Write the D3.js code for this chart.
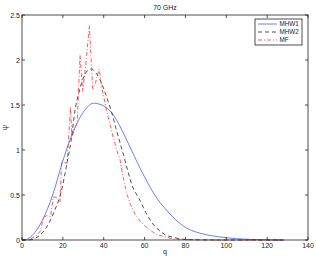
<!DOCTYPE html>
<html lang="en">
<head>
<meta charset="UTF-8">
<title>70 GHz</title>
<script src="https://d3js.org/d3.v7.min.js"></script>
<style>
  body { margin: 0; background: #fff; }
  svg text { font-family: "Liberation Sans", Arial, sans-serif; fill: #222; }
</style>
</head>
<body>
<div id="chart"></div>
<script>
// values
var xTicks = [0, 20, 40, 60, 80, 100, 120, 140];
var yTicks = [0, 0.5, 1, 1.5, 2, 2.5];

var mhw1Q = [0, 2, 5, 10, 15, 20, 25, 30, 35, 40, 45, 50, 55, 60, 65, 70, 75, 80, 85, 90, 95, 100, 110, 120, 128];
var mhw1V = [0, 0.005, 0.05, 0.22, 0.5, 0.88, 1.2, 1.42, 1.52, 1.49, 1.38, 1.17, 0.93, 0.70, 0.50, 0.35, 0.23, 0.14, 0.09, 0.06, 0.04, 0.025, 0.008, 0.002, 0];

var mhw2Q = [0, 5, 8, 10, 13, 16, 19, 22, 24, 26, 28, 30, 32, 34, 36, 38, 40, 42, 44, 46, 48, 50, 52, 54, 56, 58, 60, 62, 64, 66, 68, 70, 74, 78, 85, 100, 128];
var mhw2V = [0, 0.005, 0.04, 0.08, 0.18, 0.33, 0.52, 0.85, 1.1, 1.45, 1.65, 1.8, 1.88, 1.9, 1.86, 1.79, 1.68, 1.55, 1.41, 1.24, 1.08, 0.92, 0.75, 0.6, 0.51, 0.43, 0.33, 0.25, 0.18, 0.13, 0.09, 0.06, 0.03, 0.01, 0.003, 0, 0];

var mfQ = [0, 3, 5, 7, 9, 10.5, 12, 14, 15.3, 17, 18.6, 19.4, 21, 22, 23, 23.7, 24.5, 26, 27, 28.4, 29.7, 31, 33, 34.6, 36, 37.8, 39, 41.4, 44, 46.3, 48, 49.5, 51.2, 53, 56, 59, 62.6, 66, 70.8, 75, 80, 90, 128];
var mfV = [0, 0, 0.02, 0.05, 0.1, 0.25, 0.27, 0.26, 0.48, 0.47, 0.42, 0.88, 0.86, 0.85, 1.2, 1.48, 1.15, 1.25, 1.3, 2.05, 1.65, 1.9, 2.38, 1.68, 1.75, 1.9, 1.7, 1.44, 1.2, 1.0, 0.89, 0.7, 0.52, 0.4, 0.26, 0.18, 0.11, 0.06, 0.03, 0.01, 0.005, 0, 0];

var seriesNames = ["MHW1", "MHW2", "MF"];

var W = 316, H = 259;
var m = { left: 22, right: 8, top: 15, bottom: 19 };

var svg = d3.select("#chart").append("svg")
  .attr("width", W).attr("height", H);

var x = d3.scaleLinear().domain([0, 140]).range([m.left, W - m.right]);
var y = d3.scaleLinear().domain([0, 2.5]).range([H - m.bottom, m.top]);

var series = [
  { name: seriesNames[0], q: mhw1Q, v: mhw1V, color: "#3f63f2", dash: null },
  { name: seriesNames[1], q: mhw2Q, v: mhw2V, color: "#222", dash: "4,3" },
  { name: seriesNames[2], q: mfQ, v: mfV, color: "#ff3030", dash: "4,2,1,2" }
];

var line = d3.line().x(function(d) { return x(d[0]); }).y(function(d) { return y(d[1]); });

series.forEach(function(s) {
  var pts = s.q.map(function(q, i) { return [q, s.v[i]]; });
  svg.append("path")
    .attr("d", line.curve(s.name === "MF" ? d3.curveLinear : d3.curveMonotoneX)(pts))
    .attr("fill", "none")
    .attr("stroke", s.color)
    .attr("stroke-width", 0.8)
    .attr("stroke-dasharray", s.dash);
});

// axes, MATLAB style: ticks inward, box around
var tk = 3;
var g = svg.append("g").attr("stroke", "#222").attr("stroke-width", 0.8);
g.append("rect")
  .attr("x", x(0)).attr("y", y(2.5))
  .attr("width", x(140) - x(0)).attr("height", y(0) - y(2.5))
  .attr("fill", "none");

xTicks.forEach(function(t) {
  g.append("line").attr("x1", x(t)).attr("x2", x(t)).attr("y1", y(0)).attr("y2", y(0) - tk);
  g.append("line").attr("x1", x(t)).attr("x2", x(t)).attr("y1", y(2.5)).attr("y2", y(2.5) + tk);
  svg.append("text").attr("x", x(t)).attr("y", y(0) + 8)
    .attr("text-anchor", "middle").attr("font-size", 7).text(t);
});
yTicks.forEach(function(t) {
  g.append("line").attr("x1", x(0)).attr("x2", x(0) + tk).attr("y1", y(t)).attr("y2", y(t));
  g.append("line").attr("x1", x(140)).attr("x2", x(140) - tk).attr("y1", y(t)).attr("y2", y(t));
  svg.append("text").attr("x", x(0) - 2).attr("y", y(t) + 2.5)
    .attr("text-anchor", "end").attr("font-size", 7).text(t);
});

svg.append("text").attr("x", (x(0) + x(140)) / 2).attr("y", 10)
  .attr("text-anchor", "middle").attr("font-size", 7).text("70 GHz");
svg.append("text").attr("x", (x(0) + x(140)) / 2).attr("y", 254)
  .attr("text-anchor", "middle").attr("font-size", 7).text("q");
svg.append("text").attr("transform", "translate(7," + ((y(0) + y(2.5)) / 2) + ") rotate(-90)")
  .attr("text-anchor", "middle").attr("font-size", 7).text("ψ");

// legend
var lg = svg.append("g").attr("transform", "translate(255,19)");
lg.append("rect").attr("width", 47).attr("height", 26)
  .attr("fill", "#fff").attr("stroke", "#222").attr("stroke-width", 0.8);
series.forEach(function(s, i) {
  var yy = 5 + i * 8;
  lg.append("line").attr("x1", 3).attr("x2", 22).attr("y1", yy).attr("y2", yy)
    .attr("stroke", s.color).attr("stroke-width", 0.8).attr("stroke-dasharray", s.dash);
  lg.append("text").attr("x", 24.5).attr("y", yy + 2.3).attr("font-size", 6.3).text(s.name);
});
</script>
</body>
</html>
